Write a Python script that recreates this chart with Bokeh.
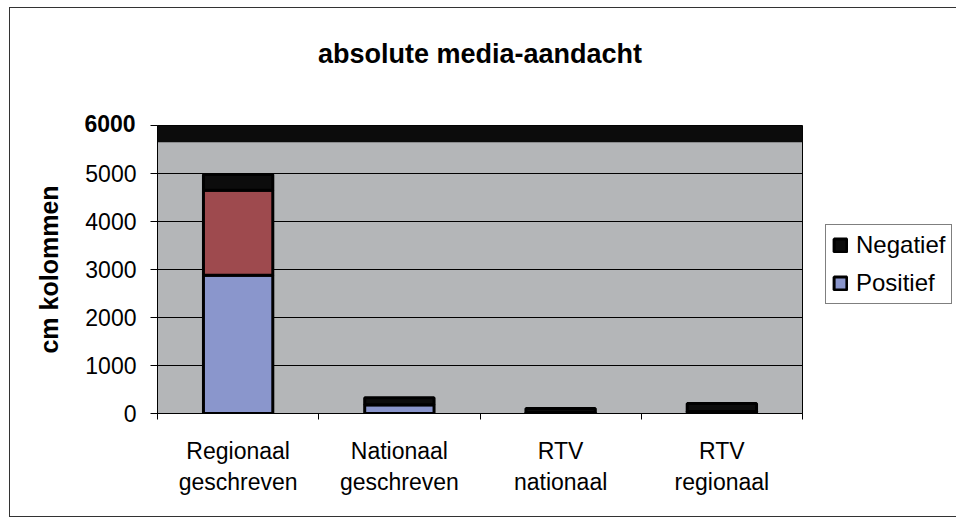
from bokeh.plotting import figure
from bokeh.models import (ColumnDataSource, FixedTicker, Legend, LegendItem,
                          BoxAnnotation, Title, Range1d)
from bokeh.embed import file_html
from bokeh.resources import INLINE

# ---- data ----
categories = ["Regionaal\ngeschreven", "Nationaal\ngeschreven", "RTV\nnationaal", "RTV\nregionaal"]
series_names = ["Positief", "Neutraal", "Negatief"]
positief = [2880, 180, 20, 40]
neutraal = [1770, 0, 0, 0]
negatief = [330, 150, 85, 170]
y_ticks = [0, 1000, 2000, 3000, 4000, 5000, 6000]
y_max = 6000
title_text = "absolute media-aandacht"
y_label = "cm kolommen"

FONT = "Liberation Sans"
BLUE = "#8a96cc"
RED = "#9e4a4e"
BLACK = "#0c0c0c"

xs = [i + 0.5 for i in range(len(categories))]
src = ColumnDataSource(dict(x=xs, Positief=positief, Neutraal=neutraal, Negatief=negatief))

p = figure(output_backend="svg", toolbar_location=None,
           frame_width=645, frame_height=288,
           min_border_left=147, min_border_top=117, min_border_right=143, min_border_bottom=103,
           x_range=Range1d(0, len(categories)), y_range=Range1d(0, y_max),
           title=title_text + "\n ")
p.styles = {"border": "1px solid #333333", "margin-left": "9px", "margin-top": "7px"}

p.background_fill_color = "#b4b6b8"
p.border_fill_color = "white"
p.outline_line_color = "black"
p.outline_line_width = 1

# bold top tick label, drawn as a small title just above the frame
top_label = Title(text=str(y_max), align="left", offset=-73, standoff=-12,
                  text_font=FONT, text_font_size="23px", text_font_style="bold",
                  text_color="black")
p.add_layout(top_label, "above")

p.title.text_font = FONT
p.title.text_font_size = "27px"
p.title.text_font_style = "bold"
p.title.align = "center"
p.title.text_color = "black"
p.title.standoff = 40

# top dark band of the wall
p.add_layout(BoxAnnotation(bottom=5650, top=y_max, fill_color=BLACK, fill_alpha=1.0,
                           line_color=None, level="underlay"))

renderers = p.vbar_stack(series_names, x="x", width=0.43, source=src,
                         fill_color=[BLUE, RED, BLACK], line_color="black", line_width=3)
r_pos, r_neu, r_neg = renderers

# grid
p.xgrid.visible = False
p.ygrid.ticker = FixedTicker(ticks=y_ticks)
p.ygrid.grid_line_color = "black"
p.ygrid.grid_line_width = 1
p.ygrid.level = "underlay"

# y axis
ya = p.yaxis[0]
ya.ticker = FixedTicker(ticks=y_ticks)
ya.major_label_overrides = {y_ticks[-1]: " "}
ya.major_label_text_font = FONT
ya.major_label_text_font_size = "23px"
ya.major_label_text_color = "black"
ya.major_tick_out = 7
ya.major_tick_in = 0
ya.minor_tick_out = 0
ya.minor_tick_in = 0
ya.major_label_standoff = 14
ya.axis_line_color = "black"
ya.axis_label = y_label
ya.axis_label_text_font = FONT
ya.axis_label_text_font_size = "25px"
ya.axis_label_text_font_style = "bold"
ya.axis_label_text_color = "black"
ya.axis_label_standoff = 19

# x axis
xa = p.xaxis[0]
xa.ticker = FixedTicker(ticks=xs, minor_ticks=list(range(len(categories) + 1)))
xa.major_label_overrides = {x: c for x, c in zip(xs, categories)}
xa.major_label_text_font = FONT
xa.major_label_text_font_size = "23px"
xa.major_label_text_color = "black"
xa.major_tick_out = 0
xa.major_tick_in = 0
xa.minor_tick_out = 6
xa.minor_tick_in = 0
xa.major_label_standoff = 18
xa.axis_line_color = "black"

legend = Legend(items=[LegendItem(label="Negatief", renderers=[r_neg]),
                       LegendItem(label="Positief", renderers=[r_pos])],
                location=(23, 109), margin=0)
legend.label_text_font = FONT
legend.label_text_font_size = "24px"
legend.label_text_color = "black"
legend.glyph_width = 16
legend.glyph_height = 16
legend.label_standoff = 8
legend.spacing = 10
legend.padding = 6
legend.border_line_color = "black"
legend.border_line_width = 1
legend.background_fill_color = "white"
legend.background_fill_alpha = 1.0
p.add_layout(legend, "right")

open("out.html", "w").write(file_html(p, INLINE))
